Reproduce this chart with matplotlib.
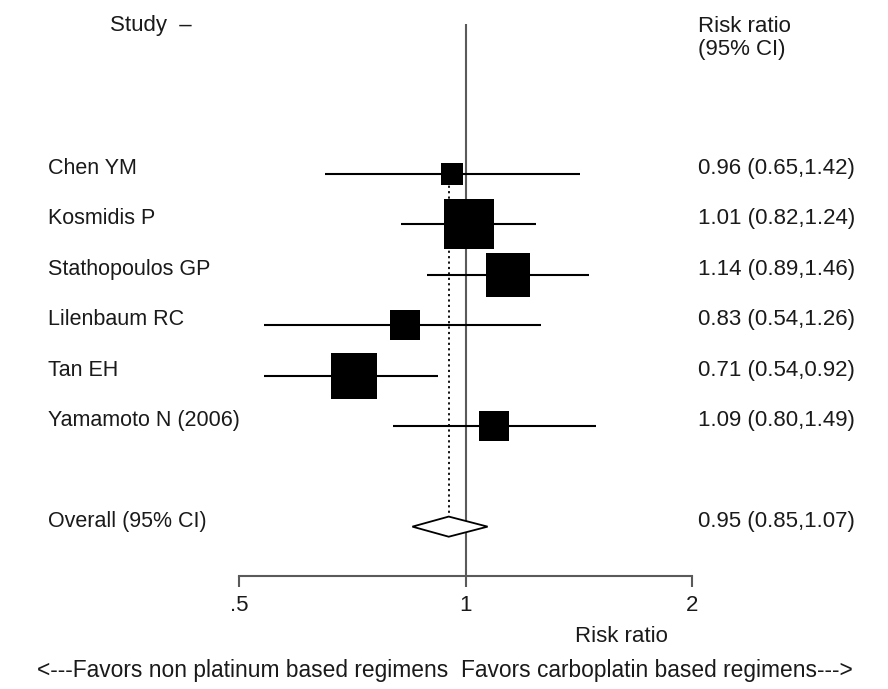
import numpy as np
import matplotlib
matplotlib.use("Agg")
import matplotlib.pyplot as plt
from matplotlib.patches import Polygon
import matplotlib.transforms as mtransforms

plt.rcParams['font.family'] = ['Liberation Sans', 'DejaVu Sans']

# ---------------- data ----------------
studies = ["Chen YM", "Kosmidis P", "Stathopoulos GP", "Lilenbaum RC",
           "Tan EH", "Yamamoto N (2006)"]
rr = [0.96, 1.01, 1.14, 0.83, 0.71, 1.09]
ci_lo = [0.65, 0.82, 0.89, 0.54, 0.54, 0.80]
ci_hi = [1.42, 1.24, 1.46, 1.26, 0.92, 1.49]
weights = [6.0, 29.6, 21.1, 9.6, 24.1, 9.6]
overall_label = "Overall (95% CI)"
overall = [0.95, 0.85, 1.07]
xticks = [0.5, 1, 2]
xticklabels = [".5", "1", "2"]

# ---------------- layout ----------------
W, H = 888, 689
fig = plt.figure(figsize=(W / 100, H / 100), dpi=100)
ax_left, ax_right, ax_top, ax_bottom = 239, 692, 24, 576
ax = fig.add_axes([ax_left / W, (H - ax_bottom) / H,
                   (ax_right - ax_left) / W, (ax_bottom - ax_top) / H])
ax.set_xscale('log')
ax.set_xlim(0.5, 2)
ax.set_ylim(7.98, -2.98)

FS = 15.5
FS_R = 16
txtcol = '#1a1a1a'
gray = '#5a5a5a'

rows = list(range(len(studies)))
overall_row = len(studies) + 1

# reference line at 1
ax.axvline(1, color=gray, lw=1.5, zorder=1)
# dotted line at overall estimate
ax.plot([overall[0], overall[0]], [rows[0] - 0.2, overall_row], color='black',
        lw=1.3, ls=(0, (1.2, 1.8)), zorder=2)

# CI lines and squares
for i, (m, lo, hi, w) in enumerate(zip(rr, ci_lo, ci_hi, weights)):
    ax.plot([lo, hi], [i, i], color='black', lw=1.5, zorder=3, solid_capstyle='butt')
    ax.plot([m], [i], marker='s', color='black', markersize=6.74 * np.sqrt(w),
            markeredgewidth=0, zorder=4)

# overall diamond
m, lo, hi = overall
diamond = Polygon([[lo, overall_row], [m, overall_row - 0.2], [hi, overall_row],
                   [m, overall_row + 0.2]], closed=True, facecolor='white',
                  edgecolor='black', lw=1.3, zorder=5)
ax.add_patch(diamond)

# axes styling
for s in ['top', 'right', 'left']:
    ax.spines[s].set_visible(False)
ax.spines['bottom'].set_color(gray)
ax.spines['bottom'].set_linewidth(1.5)
ax.set_yticks([])
ax.xaxis.set_minor_locator(matplotlib.ticker.NullLocator())
ax.set_xticks(xticks)
ax.set_xticklabels(xticklabels, fontsize=FS_R, color=txtcol)
ax.tick_params(axis='x', direction='out', length=8, width=1.5, color=gray, pad=5.5)

# text columns
trans = mtransforms.blended_transform_factory(fig.transFigure, ax.transData)
for i, name in enumerate(studies):
    ax.text(48 / W, i, name, transform=trans, ha='left', va='baseline',
            fontsize=FS, color=txtcol)
    ax.text(698 / W, i, f"{rr[i]:.2f} ({ci_lo[i]:.2f},{ci_hi[i]:.2f})",
            transform=trans, ha='left', va='baseline', fontsize=FS_R, color=txtcol)
ax.text(48 / W, overall_row, overall_label, transform=trans, ha='left',
        va='baseline', fontsize=FS, color=txtcol)
ax.text(698 / W, overall_row, f"{overall[0]:.2f} ({overall[1]:.2f},{overall[2]:.2f})",
        transform=trans, ha='left', va='baseline', fontsize=FS_R, color=txtcol)

# headers
fig.text(110 / W, 1 - 31 / H, "Study  \u2013", ha='left', va='baseline',
         fontsize=FS_R, color=txtcol)
fig.text(698 / W, 1 - 32 / H, "Risk ratio", ha='left', va='baseline',
         fontsize=FS_R, color=txtcol)
fig.text(698 / W, 1 - 55 / H, "(95% CI)", ha='left', va='baseline',
         fontsize=FS_R, color=txtcol)

# x label and bottom note
fig.text(621 / W, 1 - 642 / H, "Risk ratio", ha='center', va='baseline',
         fontsize=FS_R, color=txtcol)
fig.text(445 / W, 1 - 677 / H,
         "<---Favors non platinum based regimens  Favors carboplatin based regimens--->",
         ha='center', va='baseline', fontsize=16.4, color=txtcol)

fig.savefig("out.png", dpi=100)
